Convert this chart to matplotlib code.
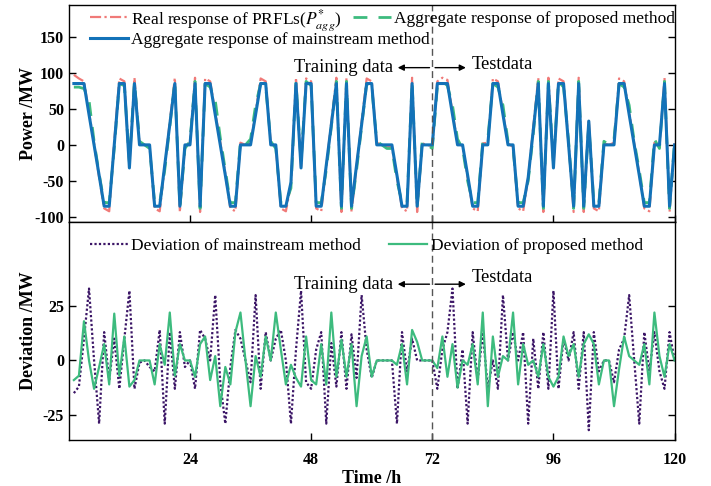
import matplotlib.pyplot as plt

plt.rcParams['font.family'] = ['Liberation Serif', 'DejaVu Serif']
plt.rcParams['mathtext.fontset'] = 'stix'
plt.rcParams['axes.unicode_minus'] = False

hours = list(range(1, 121))

# aggregate response of mainstream method (MW)
mainstream = [85, 85, 85, 42, 0, -42, -85, -85, 0, 85,
              85, -32, 85, 0, 0, 0, -85, -85, -28, 28,
              85, -85, 0, 0, 85, -85, 85, 85, 42, 0,
              -42, -85, -85, 0, 0, 0, 42, 85, 85, 0,
              0, -85, -85, -52, 85, -32, 85, 85, -85, -85,
              -28, 28, 85, -85, 85, -85, -28, 28, 85, 85,
              0, 0, 0, 0, -42, -85, -85, 85, -85, 0,
              0, 0, 85, 85, 85, 42, 0, 0, -42, -85,
              -85, 0, 0, 85, 85, 42, 0, 0, -85, -85,
              -45, 20, 85, -85, 85, -32, 85, 85, 0, -85,
              85, -85, 33, -85, -85, 0, 0, 0, 85, 85,
              42, 0, -42, -85, -85, 0, 0, 85, -85, 0]

# real response of PRFLs (MW)
real = [97, 92, 88, 45, 2, -45, -88, -92, 5, 92,
        88, -30, 93, 3, 0, -3, -88, -92, -30, 32,
        93, -93, -2, 3, 93, -93, 92, 88, 45, 4,
        -40, -88, -92, 3, 0, 2, 45, 92, 88, 3,
        -2, -88, -92, -55, 93, -30, 92, 88, -88, -92,
        -30, 32, 93, -93, 93, -93, -30, 32, 92, 88,
        3, 0, -2, -3, -45, -88, -92, 93, -93, 2,
        0, -2, 88, 93, 90, 45, 3, -2, -45, -88,
        -92, 2, 3, 92, 88, 45, 2, -3, -88, -92,
        -45, 25, 93, -93, 93, -30, 92, 88, 3, -93,
        93, -93, 35, -88, -92, 2, 0, 3, 92, 88,
        45, 2, -40, -88, -92, 3, -2, 93, -93, 2]

# aggregate response of proposed method (MW)
proposed = [80, 80, 78, 62, 5, -40, -80, -80, -5, 85,
            82, -25, 88, 5, 0, -5, -80, -80, -35, 25,
            88, -88, -5, 5, 88, -88, 85, 80, 62, 10,
            -35, -80, -80, 5, 0, 8, 55, 85, 80, 5,
            -5, -80, -80, -60, 88, -25, 88, 82, -80, -80,
            -35, 25, 88, -88, 88, -88, -35, 25, 85, 80,
            5, 0, -5, -5, -50, -80, -80, 88, -88, 5,
            0, -5, 80, 88, 82, 55, 8, -5, -50, -80,
            -80, 5, 8, 85, 80, 55, 5, -5, -80, -80,
            -50, 15, 88, -88, 88, -25, 88, 80, 5, -88,
            88, -88, 30, -80, -80, 5, 0, 8, 85, 80,
            55, 5, -35, -80, -80, 8, -5, 88, -88, 5]

dev_mainstream = [-15, -12, 10, 33, 0, -29, 13, -9, 10, -13,
                  10, 32, -13, -1, 0, -3, -5, 14, -29, 13,
                  -13, 13, -3, 0, -13, 14, 10, 0, 30, -10,
                  -29, -3, 14, 10, 0, -10, 30, -13, 13, 0,
                  10, 14, 0, -29, 5, 32, -10, -13, 5, 13,
                  -29, 8, -12, 13, -13, 12, -8, 30, 5, -8,
                  0, 0, 0, 0, -29, 13, -5, 10, 0, 0,
                  0, 0, -13, 5, 13, 33, -13, 5, -29, 13,
                  -9, 13, -13, 0, -13, 30, 0, 13, 0, 13,
                  -29, 10, -13, 13, -13, 32, -13, 10, 0, 13,
                  -13, 13, -32, 13, -5, 0, 0, -10, 5, 10,
                  30, 0, -29, 13, -5, 13, -5, -13, 13, 0]

dev_proposed = [-9, -7, 18, 0, -13, -3, 7.5, -11, 21.5, -7,
                11, -12, -9, 0, 0, 0, -11, 7.5, -2, 22,
                -7, 7.5, 0, 0, -7.5, 7.5, 11, -9, 2, -21,
                -3, -11, 13, 22, 0, -21, 2, -7.5, 11, 0,
                22, 5, -11, -2, -8, -12, 11, -9, -11, 7.5,
                -11, 22, -7.5, 9.5, -7.5, 7.5, -21, 2, 11, -7.5,
                0, 0, 0, 0, -2, 7.5, -11, 14, 8.5, 0,
                0, 0, -3.5, 11, -7.5, 7.5, -12.5, 0, -2, 7.5,
                -11, 22, -21, 11, -7.5, 2, 0, 22, -11, 7.5,
                -2, 0, -7.5, 7.5, -7.5, -12, -7.5, 11, 2, 7.5,
                -7.5, 7.5, 12, 7.5, -11, 0, 0, -21, -4, 11,
                2, 0, -2, 7.5, -11, 22, 2, -7.5, 7.5, 0]

c_red = '#F07A78'
c_green = '#3DBB7E'
c_blue = '#1372B8'
c_purple = '#3B1566'

fig = plt.figure(figsize=(7.11, 4.86), dpi=100)
ax1 = fig.add_axes([0.0968, 0.543, 0.852, 0.447])
ax2 = fig.add_axes([0.0968, 0.0947, 0.852, 0.4483])

l1, = ax1.plot(hours, real, color=c_red, lw=1.6, ls=(0, (5, 1.5, 1, 1.5)),
               label=r'Real response of PRFLs($P^{*}_{agg}$)')
l3, = ax1.plot(hours, proposed, color=c_green, lw=2, ls=(0, (5, 4)),
               label='Aggregate response of proposed method')
l2, = ax1.plot(hours, mainstream, color=c_blue, lw=2.2,
               label='Aggregate response of mainstream method')
leg_kw = dict(frameon=False, fontsize=12.5, handlelength=2.2,
              handletextpad=0.2, borderaxespad=0.1, loc='upper left')
leg1 = ax1.legend(handles=[l1, l3], ncol=2, columnspacing=0.6,
                  bbox_to_anchor=(0.02, 1.032), **leg_kw)
ax1.add_artist(leg1)
ax1.legend(handles=[l2], bbox_to_anchor=(0.02, 0.916), **leg_kw)

ax2.plot(hours, dev_mainstream, color=c_purple, lw=1.6, ls=(0, (1, 1)),
         label='Deviation of mainstream method')
ax2.plot(hours, dev_proposed, color=c_green, lw=1.6,
         label='Deviation of proposed method')
ax2.legend(ncol=2, columnspacing=1.6, bbox_to_anchor=(0.02, 0.968), **leg_kw)

for ax in (ax1, ax2):
    ax.set_xlim(0, 120)
    ax.set_xticks([24, 48, 72, 96, 120])
    ax.axvline(72, color='#555555', lw=1, ls=(0, (5, 3)))
    ax.tick_params(direction='in', right=True, length=5, width=1,
                   labelsize=11.5)
    for s in ax.spines.values():
        s.set_linewidth(1)

ax1.set_ylim(-107, 194)
ax1.set_yticks([-100, -50, 0, 50, 100, 150])
ax1.tick_params(labelbottom=False)
ax1.set_ylabel('Power /MW', fontsize=13, fontweight='bold', labelpad=-2)

ax2.set_ylim(-36.5, 63.5)
ax2.set_yticks([-25, 0, 25])
ax2.tick_params(axis='x', pad=9)
ax2.set_xlabel('Time /h', fontsize=13, fontweight='bold', labelpad=1)
ax2.set_ylabel('Deviation /MW', fontsize=13, fontweight='bold', labelpad=4)

for ax in (ax1, ax2):
    for lab in ax.get_yticklabels() + ax.get_xticklabels():
        lab.set_fontweight('bold')

arrow = dict(arrowstyle='-|>', color='black', lw=1, mutation_scale=9)
# annotations in the top panel
ax1.annotate('', xy=(64.6, 107), xytext=(72, 107), arrowprops=arrow)
ax1.annotate('', xy=(79.2, 107), xytext=(72, 107), arrowprops=arrow)
ax1.text(64.3, 107, 'Training data', fontsize=13.4, ha='right', va='center')
ax1.text(79.8, 112, 'Testdata', fontsize=13.4, ha='left', va='center')
# annotations in the bottom panel
ax2.annotate('', xy=(64.6, 35), xytext=(72, 35), arrowprops=arrow)
ax2.annotate('', xy=(79.2, 35), xytext=(72, 35), arrowprops=arrow)
ax2.text(64.3, 35, 'Training data', fontsize=13.4, ha='right', va='center')
ax2.text(79.8, 38, 'Testdata', fontsize=13.4, ha='left', va='center')

fig.savefig('out.png', dpi=100)
